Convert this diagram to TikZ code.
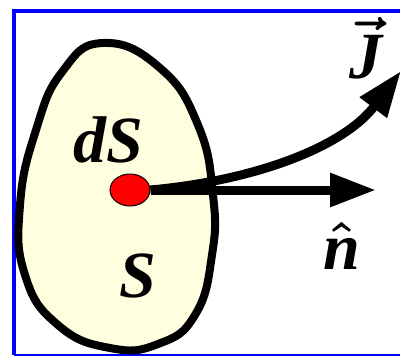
\documentclass[tikz,border=0pt]{standalone}
\usepackage{graphicx}
\usepackage{fontspec}
\setmainfont{Liberation Serif}
\usetikzlibrary{arrows.meta, shapes.geometric}
\definecolor{patch}{RGB}{255,255,224}
\newcommand{\biglabel}[1]{\scalebox{3}{\fontsize{22}{24}\selectfont\bfseries\itshape\boldmath #1}}
\tikzset{
  frame/.style={draw=blue, line width=4pt},
  surf/.style={draw, line width=8pt, fill=patch},
  dotnode/.style={ellipse, draw, line width=1pt, fill=red, minimum width=40pt, minimum height=32pt, inner sep=0pt},
  vecline/.style={line width=9pt, -{Triangle[length=46pt, width=32pt]}},
  lbl/.style={inner sep=0pt},
}

\begin{document}
\begin{tikzpicture}[x=1pt, y=-1pt]
    \useasboundingbox (0,0) rectangle (400,357);
    % frame
    \draw[frame] (400,11) -- (14,11) -- (14,355);
    \draw[draw=blue, line width=2pt] (14,355) -- (400,355);
    % surface patch
    \draw[surf] plot[smooth cycle, tension=0.8] coordinates {(103,43) (62,72) (36,130) (20,205) (25,275) (58,325) (110,348) (158,344) (195,315) (212,255) (213,195) (198,125) (160,68)};
    \node[lbl] (ds) at (108,140) {\biglabel{dS}};
    \node[lbl] (s) at (138,276) {\biglabel{S}};
    % area element and vectors
    \node[dotnode] (dot) at (130,190) {};
    \coordinate (ntip) at (376,190);
    \coordinate (jtip) at (401,71);
    \draw[vecline] (dot.east) -- (ntip);
    \draw[vecline] (dot.east) .. controls (260,180) and (345,145) .. (jtip);
    \node[lbl] (n) at (342,246) {\biglabel{$\hat{\textbf{\textit{n}}}$}};
    \node[lbl] (j) at (366,48) {\biglabel{$\vec{\textbf{\textit{J}}}$}};
\end{tikzpicture}
\end{document}
